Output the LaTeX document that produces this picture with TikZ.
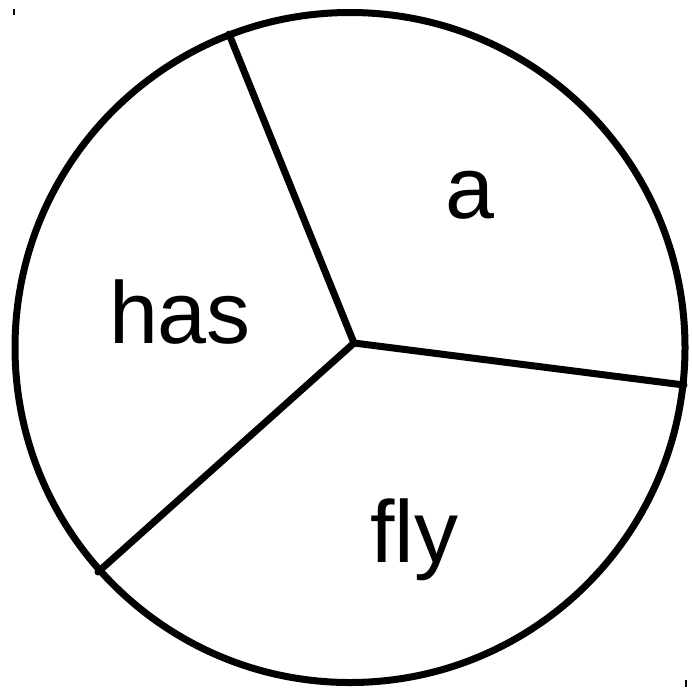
\documentclass[tikz,border=0pt]{standalone}
\usepackage{fontspec}
\setmainfont{Liberation Sans}
\begin{document}
\begin{tikzpicture}[x=1pt,y=-1pt,
  edge/.style={line width=7pt,line cap=round},
  lbl/.style={anchor=base,inner sep=0pt,font=\fontsize{88}{88}\selectfont},
  tick/.style={line width=1.5pt}]
\useasboundingbox (0,0) rectangle (692,689);
\fill[white] (0,0) rectangle (692,689);
\coordinate (c) at (354,343);
\coordinate (t) at (229,34);
\coordinate (r) at (684,385);
\coordinate (l) at (98,572);
\draw[line width=7pt] (350,347.5) circle (335);
\draw[edge] (c) -- (t);
\draw[edge] (c) -- (r);
\draw[edge] (c) -- (l);
\node[lbl] (na) at (470,218) {a};
\node[lbl] (nh) at (180,343) {has};
\node[lbl] (nf) at (414,562) {fly};
\coordinate (k1) at (14,9);
\coordinate (k2) at (14,15);
\coordinate (k3) at (686,680);
\coordinate (k4) at (686,687);
\draw[tick] (k1) -- (k2);
\draw[tick] (k3) -- (k4);
\end{tikzpicture}
\end{document}
